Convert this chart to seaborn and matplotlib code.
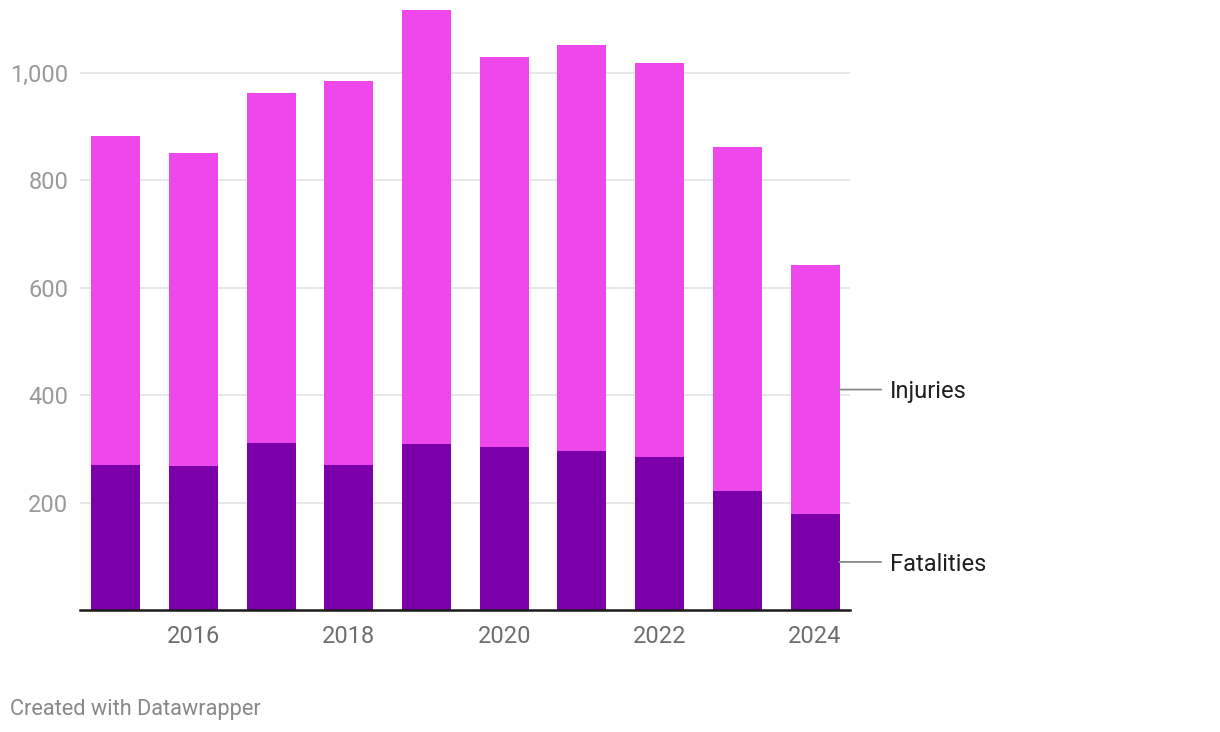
import matplotlib.pyplot as plt
import seaborn as sns
import pandas as pd
import numpy as np

years = [2015, 2016, 2017, 2018, 2019, 2020, 2021, 2022, 2023, 2024]
fatalities = [270, 268, 311, 270, 309, 304, 296, 285, 222, 179]
injuries = [613, 583, 652, 715, 808, 726, 756, 734, 640, 463]
y_ticks = [200, 400, 600, 800, 1000]
x_labels = ['2016', '2018', '2020', '2022', '2024']

FAT_COLOR = '#7b00a9'
INJ_COLOR = '#ee48ec'

sns.set_theme(style='white')
plt.rcParams['font.family'] = ['Roboto', 'DejaVu Sans']

df = pd.DataFrame({'year': years, 'fatalities': fatalities, 'injuries': injuries})
df['total'] = df['fatalities'] + df['injuries']

fig = plt.figure(figsize=(12.2, 7.32), dpi=100)
ax = fig.add_axes([80 / 1220, 122 / 732, 770 / 1220, 610 / 732])

# gridlines first so bars sit on top
for t in y_ticks:
    ax.axhline(t, color='#e3e3e3', lw=1.2, zorder=0)

sns.barplot(data=df, x='year', y='total', color=INJ_COLOR, width=0.63,
            saturation=1, linewidth=0, ax=ax, zorder=2)
sns.barplot(data=df, x='year', y='fatalities', color=FAT_COLOR, width=0.63,
            saturation=1, linewidth=0, ax=ax, zorder=3)

ax.set_xlim(-0.46, 9.45)
ax.set_ylim(0, 1136)
ax.set_xlabel('')
ax.set_ylabel('')

ax.set_yticks(y_ticks)
ax.set_yticklabels([f'{t:,}' for t in y_ticks], color='#9a9a9a', fontsize=17)
ax.set_xticks([years.index(int(l)) for l in x_labels])
ax.set_xticklabels(x_labels, color='#6e6e6e', fontsize=17)
ax.tick_params(axis='both', length=0)
ax.tick_params(axis='y', pad=8.5)
ax.tick_params(axis='x', pad=10.5)

for s in ['top', 'right', 'left']:
    ax.spines[s].set_visible(False)
ax.spines['bottom'].set_color('#1a1a1a')
ax.spines['bottom'].set_linewidth(1.8)
ax.spines['bottom'].set_zorder(5)

# direct labels on the last bar
last = len(years) - 1
label_pos = {
    'Injuries': fatalities[last] + injuries[last] / 2,
    'Fatalities': fatalities[last] / 2,
}
for name, yv in label_pos.items():
    ax.annotate('', xy=(last + 0.31, yv), xytext=(last + 0.85, yv),
                arrowprops=dict(arrowstyle='-', color='#888888', lw=1.3,
                                shrinkA=0, shrinkB=0),
                annotation_clip=False)
    ax.annotate(name, xy=(last + 0.96, yv), xytext=(0, -1.5),
                textcoords='offset points', va='center', ha='left',
                fontsize=17, color='#1f1f1f', annotation_clip=False)

fig.text(10 / 1220, 1 - 710 / 732, 'Created with Datawrapper', fontsize=15.7,
         color='#888888', va='center', ha='left')

fig.savefig('out.png', dpi=100)
